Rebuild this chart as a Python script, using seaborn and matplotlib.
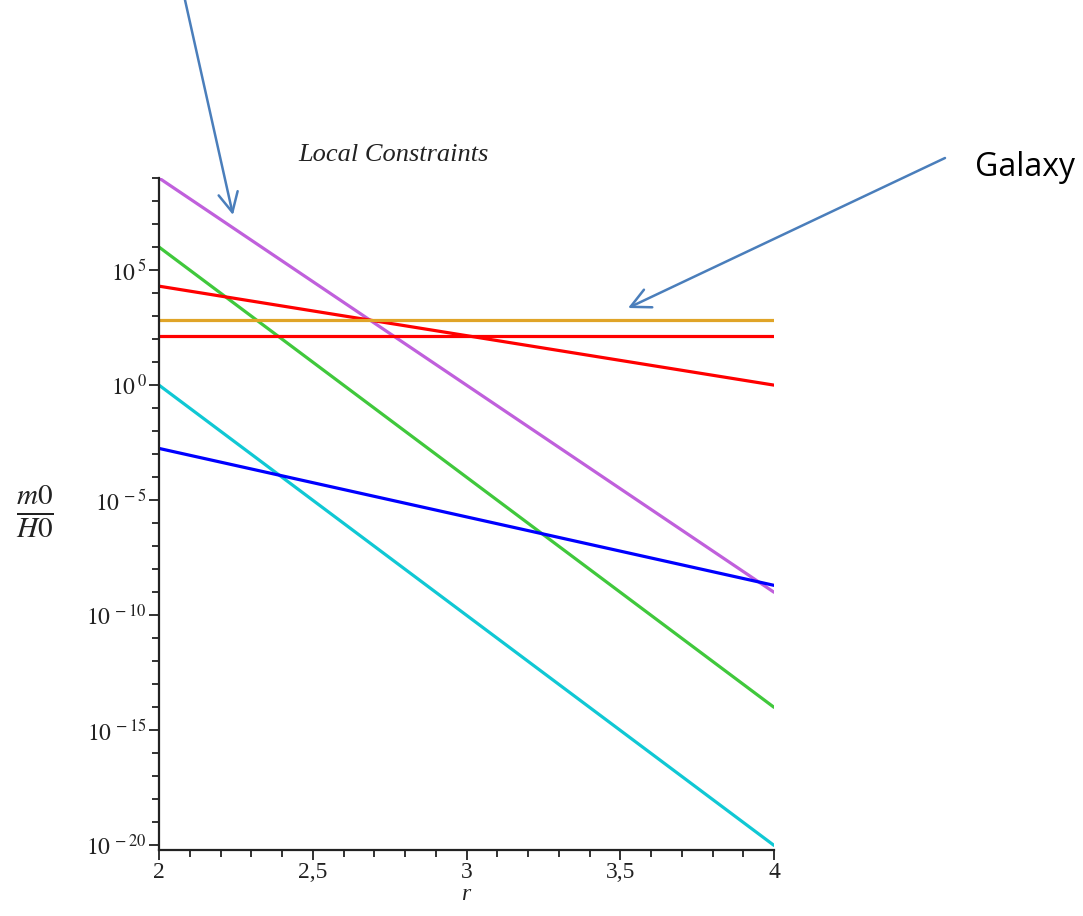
import numpy as np
import pandas as pd
import matplotlib
matplotlib.use("Agg")
import matplotlib.pyplot as plt
import matplotlib.ticker as mticker
import seaborn as sns

# ---- data ----
r = [2.0, 4.0]
purple = [1e9, 1e-9]
green = [1e6, 1e-14]
red_slope = [10**4.3, 1e0]
orange_flat = [10**2.85, 10**2.85]
red_flat = [10**2.14, 10**2.14]
cyan = [1e0, 1e-20]
blue = [10**-2.75, 10**-8.7]

series = {
    "purple": purple,
    "green": green,
    "red_slope": red_slope,
    "orange": orange_flat,
    "red_flat": red_flat,
    "cyan": cyan,
    "blue": blue,
}
colors = {
    "purple": "#c060dc",
    "green": "#40c83c",
    "red_slope": "#ff0000",
    "orange": "#e0a428",
    "red_flat": "#ff0000",
    "cyan": "#10c8d4",
    "blue": "#0000ff",
}

rows = []
for name, vals in series.items():
    for x, y in zip(r, vals):
        rows.append({"r": x, "v": y, "s": name})
df = pd.DataFrame(rows)

sns.set_style("ticks")
plt.rcParams["font.family"] = ["Liberation Serif", "DejaVu Serif"]
plt.rcParams["mathtext.fontset"] = "stix"

fig = plt.figure(figsize=(10.83, 9.16), dpi=100)
ax = fig.add_axes([159 / 1083, 1 - 850 / 916, (774 - 159) / 1083, (850 - 178) / 916])

sns.lineplot(data=df, x="r", y="v", hue="s", palette=colors, ax=ax,
             legend=False, linewidth=2.3, sort=False)

ax.set_yscale("log")
ax.set_xlim(2, 4)
ax.set_ylim(10**-20.2, 1e9)

ax.yaxis.set_major_locator(mticker.FixedLocator([10.0**k for k in range(-20, 6, 5)]))
ax.yaxis.set_minor_locator(mticker.FixedLocator([10.0**k for k in range(-20, 10)]))
ax.yaxis.set_major_formatter(mticker.FuncFormatter(
    lambda v, p: r"$10^{\,%d}$" % int(round(np.log10(v)))))
ax.yaxis.set_minor_formatter(mticker.NullFormatter())

ax.xaxis.set_major_locator(mticker.FixedLocator([2, 2.5, 3, 3.5, 4]))
ax.xaxis.set_minor_locator(mticker.MultipleLocator(0.1))
ax.xaxis.set_major_formatter(mticker.FuncFormatter(
    lambda v, p: ("%g" % v).replace(".", ",")))

ax.tick_params(axis="both", which="major", length=7, width=1.3, labelsize=17,
               color="#222222", labelcolor="#222222")
ax.tick_params(axis="x", which="major", pad=2)
ax.tick_params(axis="y", which="major", pad=2)
ax.tick_params(axis="both", which="minor", length=5, width=1.3, color="#222222")
for s in ["left", "bottom"]:
    ax.spines[s].set_linewidth(1.6)
    ax.spines[s].set_color("#222222")
sns.despine(ax=ax)

ax.set_xlabel("")
ax.set_ylabel("")

fig.text(466 / 1083, 1 - 895 / 916, "r", style="italic", fontsize=17,
         ha="center", va="center", color="#222222")
fig.text(35 / 1083, 1 - 512 / 916, r"$\frac{m0}{H0}$", fontsize=30,
         ha="center", va="center", color="#222222")
fig.text(393 / 1083, 1 - 155 / 916, "Local Constraints", style="italic",
         fontsize=19, ha="center", va="center", color="#222222")

fig.text(975 / 1083, 1 - 168 / 916, "Galaxy", family=["Open Sans", "DejaVu Sans"],
         fontsize=23, ha="left", va="center", color="black")

arrow_color = "#4a7ebb"
fig.patches.append(matplotlib.patches.FancyArrowPatch(
    (185 / 1083, 1 - 0 / 916), (233 / 1083, 1 - 215 / 916),
    transform=fig.transFigure, arrowstyle="->,head_length=14,head_width=7",
    color=arrow_color, lw=1.8, shrinkA=0, shrinkB=0))
fig.patches.append(matplotlib.patches.FancyArrowPatch(
    (945 / 1083, 1 - 158 / 916), (628 / 1083, 1 - 308 / 916),
    transform=fig.transFigure, arrowstyle="->,head_length=14,head_width=7",
    color=arrow_color, lw=1.8, shrinkA=0, shrinkB=0))

fig.savefig("out.png", dpi=100, facecolor="white")
